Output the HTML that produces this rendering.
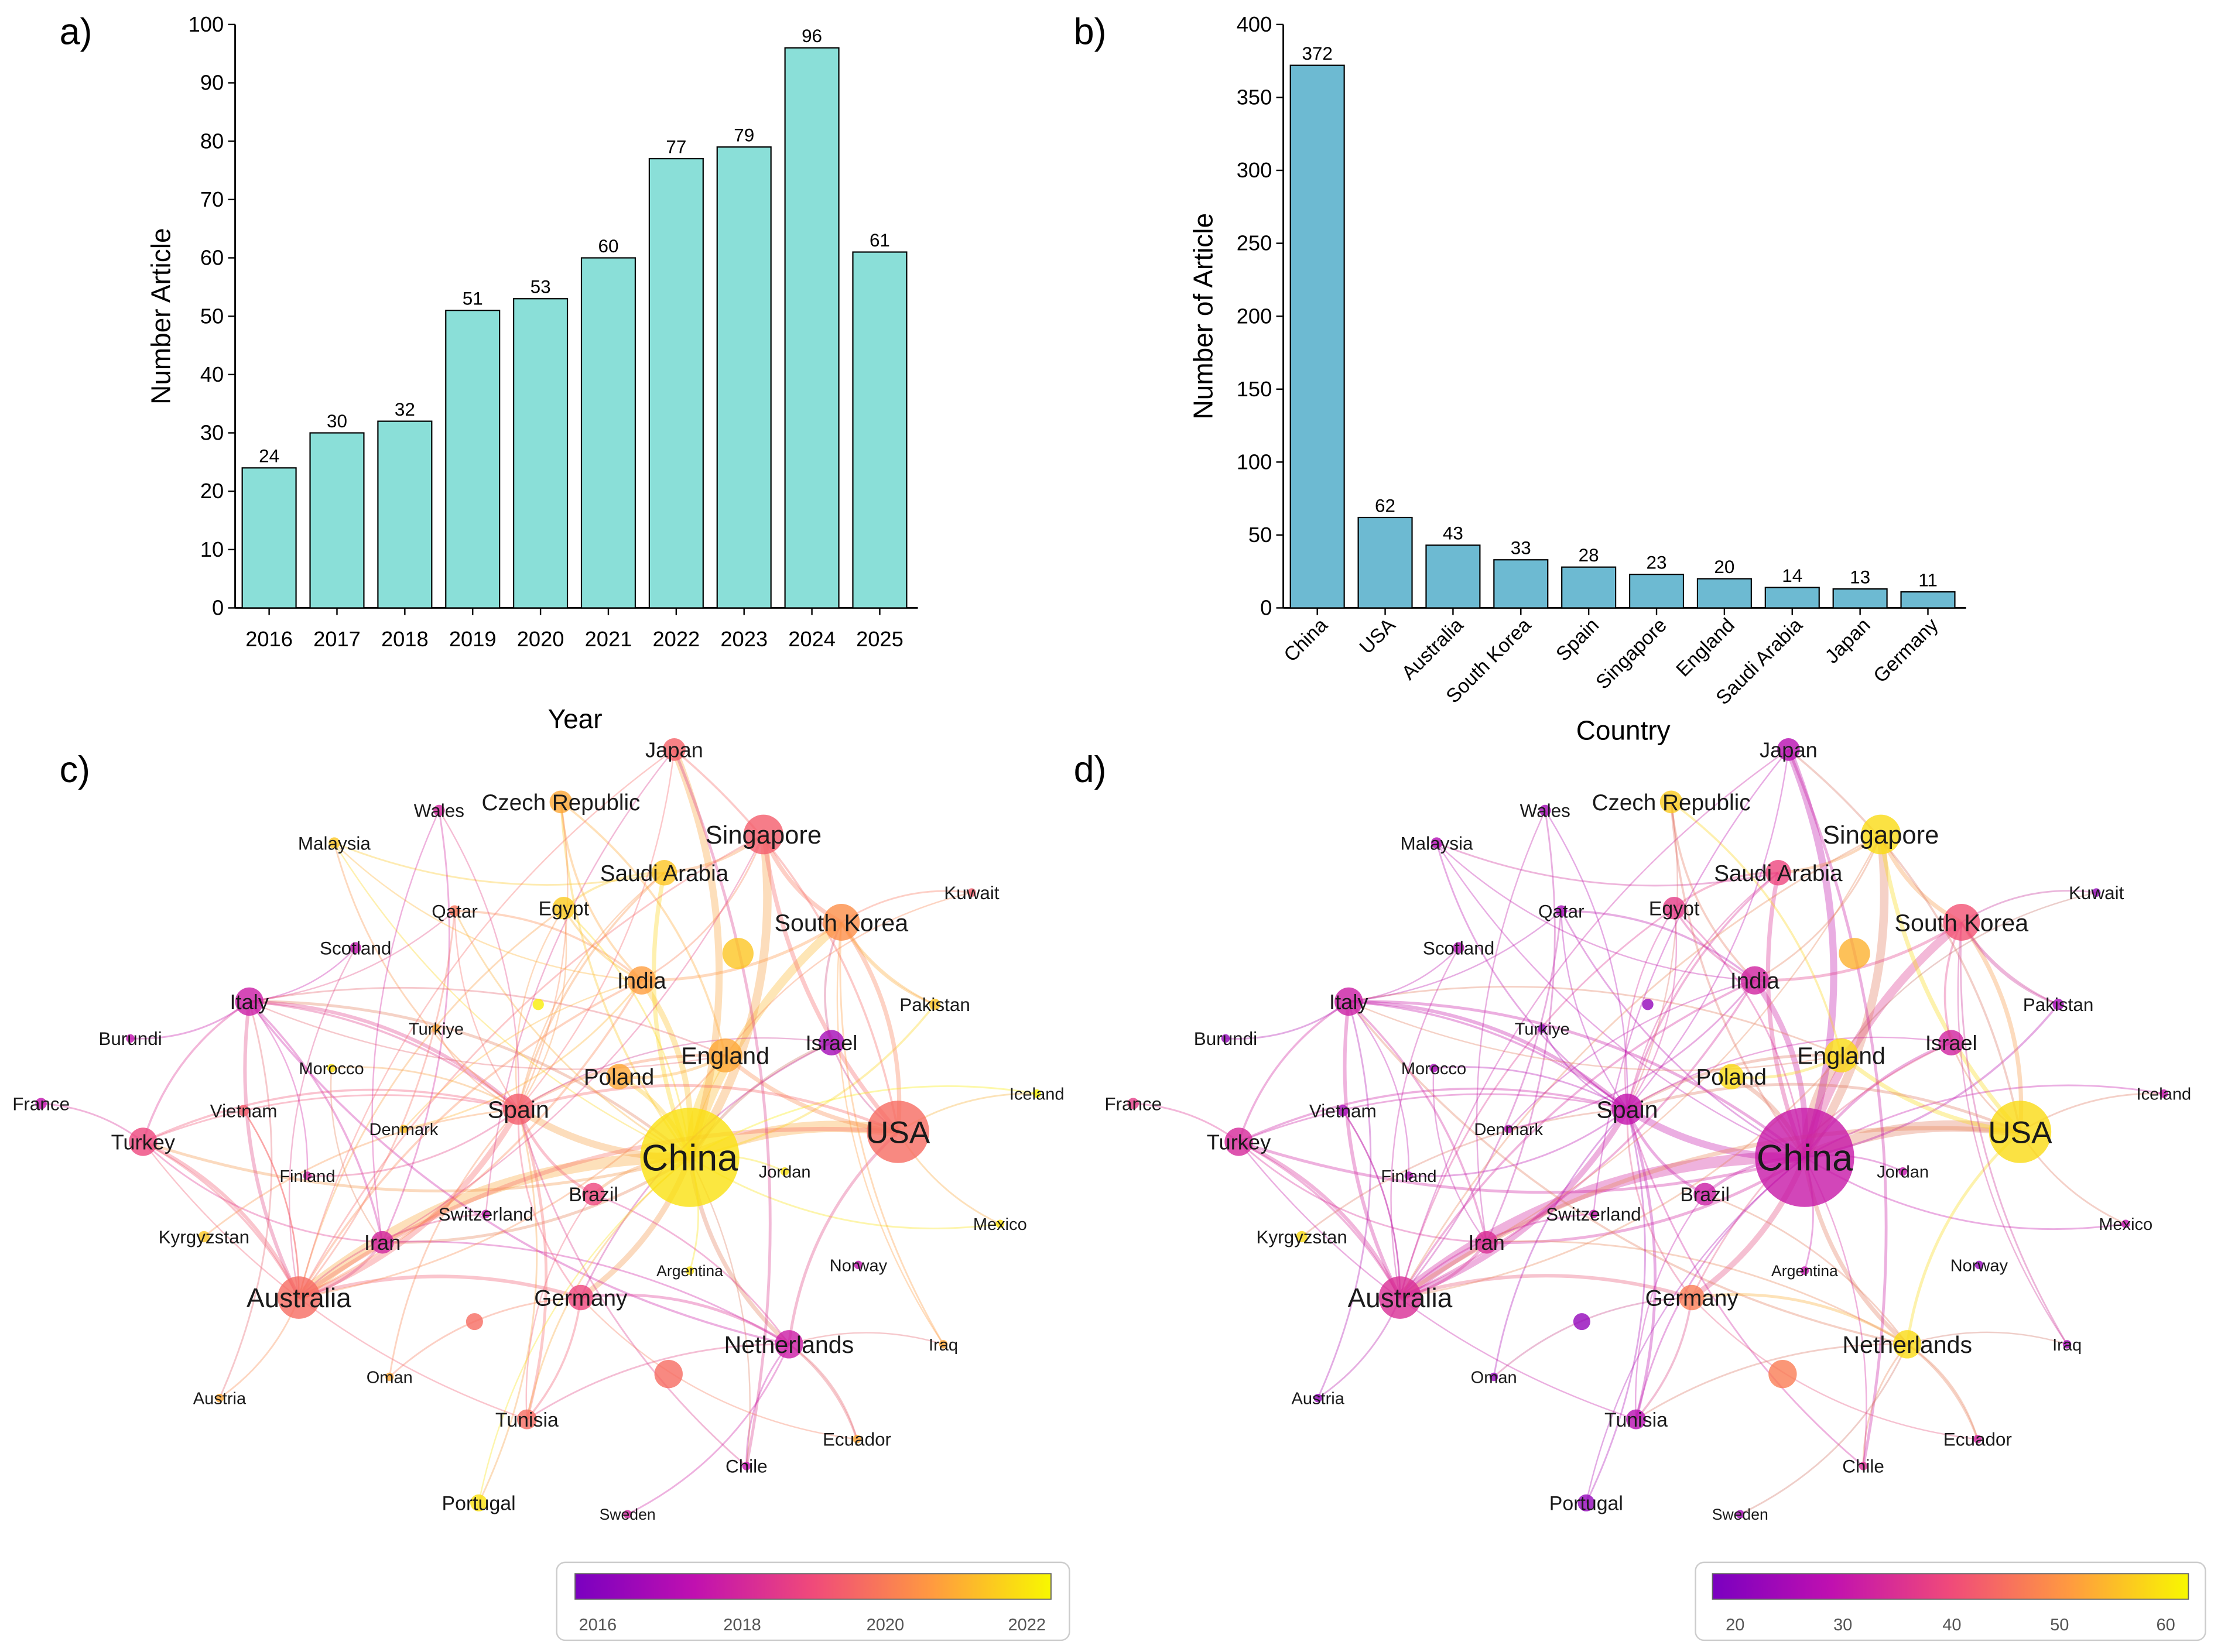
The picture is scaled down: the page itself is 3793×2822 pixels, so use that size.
<!DOCTYPE html>
<html><head><meta charset="utf-8">
<style>
html,body{margin:0;padding:0;background:#fff;}
svg{display:block;font-family:"Liberation Sans",Arial,sans-serif;}
</style></head>
<body>
<svg id="fig" width="3793" height="2822" viewBox="0 0 1568 1166" xmlns="http://www.w3.org/2000/svg">
<defs>
<linearGradient id="plasma" x1="0" x2="1" y1="0" y2="0">
<stop offset="0" stop-color="#7a00c0"/><stop offset="0.25" stop-color="#c010b0"/>
<stop offset="0.5" stop-color="#f04a7a"/><stop offset="0.75" stop-color="#ff9a40"/>
<stop offset="1" stop-color="#f8f800"/></linearGradient>
</defs>
<g id="edgesC"></g>
<g id="edgesD"></g>
<g id="nodesC"></g>
<g id="nodesD"></g>
<g id="chartA"></g>
<g id="chartB"></g>
<text x="42" y="31" font-size="26">a)</text>
<text x="758" y="31" font-size="26">b)</text>
<text x="42" y="552" font-size="26">c)</text>
<text x="758" y="552" font-size="26">d)</text>
<g>
<rect x="393" y="1103" width="362" height="55" rx="6" fill="#fff" stroke="#ccc"/>
<rect x="406" y="1111" width="336" height="18" fill="url(#plasma)" stroke="#666" stroke-width="0.8"/>
<g font-size="12" fill="#555" text-anchor="middle">
<text x="422" y="1151">2016</text><text x="524" y="1151">2018</text><text x="625" y="1151">2020</text><text x="725" y="1151">2022</text></g>
</g>
<g>
<rect x="1197" y="1103" width="360" height="55" rx="6" fill="#fff" stroke="#ccc"/>
<rect x="1209" y="1111" width="336" height="18" fill="url(#plasma)" stroke="#666" stroke-width="0.8"/>
<g font-size="12" fill="#555" text-anchor="middle">
<text x="1225" y="1151">20</text><text x="1301" y="1151">30</text><text x="1378" y="1151">40</text><text x="1454" y="1151">50</text><text x="1529" y="1151">60</text></g>
</g>
</svg>
<script>
const years=["2016","2017","2018","2019","2020","2021","2022","2023","2024","2025"];
const yearCounts=[24,30,32,51,53,60,77,79,96,61];
const countries=["China","USA","Australia","South Korea","Spain","Singapore","England","Saudi Arabia","Japan","Germany"];
const countryCounts=[372,62,43,33,28,23,20,14,13,11];
const yTicksA=[0,10,20,30,40,50,60,70,80,90,100];
const yTicksB=[0,50,100,150,200,250,300,350,400];

const NS="http://www.w3.org/2000/svg";
function mk(tag,attrs,parent){const e=document.createElementNS(NS,tag);for(const k in attrs)e.setAttribute(k,attrs[k]);parent.appendChild(e);return e;}

function barChart(g,cats,vals,ticks,max,x0,fill,rot,ylab,xlab,ylx,xly){
  const yPx=v=>429-v*(412/max);
  const xPx=i=>x0+24+i*47.9;
  mk('line',{x1:x0,y1:17,x2:x0,y2:429,stroke:'#000','stroke-width':1.2},g);
  mk('line',{x1:x0,y1:429,x2:x0+482,y2:429,stroke:'#000','stroke-width':1.2},g);
  ticks.forEach(t=>{
    mk('line',{x1:x0-5,y1:yPx(t),x2:x0,y2:yPx(t),stroke:'#000'},g);
    const tx=mk('text',{x:x0-8,y:yPx(t)+5,'font-size':15,'text-anchor':'end'},g);tx.textContent=t;
  });
  cats.forEach((c,i)=>{
    const r=mk('rect',{x:xPx(i)-19,y:yPx(vals[i]),width:38,height:429-yPx(vals[i]),fill:fill,stroke:'#000','stroke-width':0.9},g);
    
    
    const v=mk('text',{x:xPx(i),y:yPx(vals[i])-4,'font-size':13,'text-anchor':'middle'},g);v.textContent=vals[i];
    mk('line',{x1:xPx(i),y1:429,x2:xPx(i),y2:434,stroke:'#000'},g);
    let t;
    if(rot){t=mk('text',{x:xPx(i)+8,y:442,'font-size':14,'text-anchor':'end',transform:`rotate(-45 ${xPx(i)+8} 442)`},g);}
    else t=mk('text',{x:xPx(i),y:456,'font-size':15,'text-anchor':'middle'},g);
    t.textContent=c;
  });
  const yl=mk('text',{x:ylx,y:223,'font-size':19,'text-anchor':'middle',transform:`rotate(-90 ${ylx} 223)`},g);yl.textContent=ylab;
  
  const xl=mk('text',{x:x0+240,y:xly,'font-size':19,'text-anchor':'middle'},g);xl.textContent=xlab;
  
}
barChart(document.getElementById('chartA'),years,yearCounts,yTicksA,100,166,'#8ADFD8',false,'Number Article','Year',120,514);
barChart(document.getElementById('chartB'),countries,countryCounts,yTicksB,400,906,'#6DBAD2',true,'Number of Article','Country',856,522);

const nodeNames=["China","USA","Australia","Singapore","South Korea","England","Japan","Spain","India","Poland","Germany","Netherlands","Saudi Arabia","Czech Republic","Italy","Turkey","Israel","Iran","Brazil","Egypt","Tunisia","Portugal","","","","","Wales","Malaysia","Qatar","Scotland","Kuwait","Pakistan","Burundi","France","Vietnam","Morocco","Turkiye","Denmark","Finland","Switzerland","Kyrgyzstan","Jordan","Iceland","Mexico","Norway","Argentina","Iraq","Oman","Austria","Ecuador","Chile","Sweden"];
const nodeX=[487,634,211,539,594,512,476,366,453,437,410,557,469,396,176,101,587,270,419,398,372,338,521,472,335,380,310,236,321,251,686,660,92,29,172,234,308,285,217,343,144,554,732,706,606,487,666,275,155,605,527,443];
const nodeY=[817,799,916,589,651,745,529,783,692,760,916,949,616,566,707,806,736,877,843,641,1002,1061,673,970,933,709,572,595,643,669,630,709,733,779,784,754,726,797,830,857,873,827,772,864,893,897,949,972,987,1016,1035,1069];
const nodeR=[35,22,15,14,13,12,8,11,10,9,9,10,9,8,10,10,9,8,8,8,7,6,11,10,6,4,4,4,4,4,3,4,3,4,4,3,3,3,3,3,4,3,3,3,3,3,3,3,3,3,3,3];
const nodeYear=[2022,2019.8,2019.8,2019.5,2020.5,2021,2019.6,2019.5,2020.8,2021,2019,2017.8,2021.5,2021,2017.8,2019,2016.8,2018,2019,2021.6,2019.8,2022,2021.5,2019.8,2019.8,2022.2,2018,2021.5,2020,2017.5,2019.5,2021.5,2017.5,2017.5,2019.5,2022,2021,2021.5,2018,2017.5,2021.5,2022,2022.3,2022,2017.5,2022,2021,2021,2021,2021,2017.5,2018];
const nodeCit=[31,60,35,60,42,60,28,30,33,60,48,60,40,58,32,34,33,35,32,38,28,22,55,48,22,22,25,27,25,27,22,25,22,38,25,25,22,27,27,30,60,30,30,30,22,30,25,22,22,33,35,25];
const nodeFont=[26,22,19,18,17,17,15,17,16,16,16,17,16,16,15,15,15,15,14,14,14,14,0,0,0,0,13,13,13,13,13,13,13,13,13,12,12,12,12,13,13,12,12,12,12,11,12,12,12,13,13,11];
const edgeFrom=["China","China","China","China","China","China","China","China","China","China","China","China","China","China","China","China","China","China","China","China","China","USA","USA","USA","USA","USA","USA","Australia","Australia","Australia","Australia","Australia","Australia","Spain","Spain","Spain","Spain","Spain","Spain","Italy","Italy","Italy","Italy","Turkey","Turkey","Singapore","Singapore","South Korea","South Korea","South Korea","England","England","India","India","Japan","Netherlands","Netherlands","Netherlands","Germany","Germany","Iran","Saudi Arabia","Saudi Arabia","Czech Republic","Wales","Malaysia","Qatar","Egypt","Tunisia","Portugal","Brazil","Israel","Pakistan","Kuwait","France","Burundi","Mexico","Iceland","Iraq","Ecuador","Chile","Sweden","Kyrgyzstan","Austria","Oman","Finland","Vietnam","Denmark","Morocco","Switzerland",
"China","China","China","China","China","China","China","USA","USA","USA","Australia","Australia","Australia","Spain","Spain","Spain","Italy","Italy","Turkey","India","India","Japan","Japan","Egypt","Qatar","Scotland","Wales","Malaysia","Czech Republic","Saudi Arabia","Singapore","South Korea","England","Germany","Iran","Brazil","Netherlands","Israel","Tunisia","Morocco","Denmark","Finland","Vietnam","Turkiye","Switzerland","Kuwait"];
const edgeTo=["USA","Australia","England","Japan","South Korea","Singapore","Spain","India","Germany","Netherlands","Saudi Arabia","Poland","Israel","Pakistan","Turkey","Italy","Iran","Brazil","Jordan","Mexico","Argentina","Australia","Singapore","South Korea","England","Netherlands","Iceland","Spain","Italy","Turkey","Germany","Iran","Austria","Italy","Tunisia","Brazil","England","Turkey","Saudi Arabia","Turkey","Iran","Netherlands","Spain","Iran","Australia","South Korea","Saudi Arabia","Israel","India","Pakistan","Poland","Czech Republic","Egypt","Qatar","Chile","Germany","Ecuador","Chile","Tunisia","Oman","Netherlands","Egypt","Malaysia","India","Iran","Spain","Australia","Australia","Netherlands","Spain","Netherlands","Germany","South Korea","South Korea","Turkey","Italy","USA","China","South Korea","Netherlands","Spain","Netherlands","Spain","Italy","Spain","Spain","Australia","India","Spain","Australia",
"Czech Republic","Egypt","Qatar","Tunisia","Chile","Portugal","Malaysia","Japan","Israel","Spain","India","England","Singapore","Egypt","Qatar","Germany","England","Scotland","Spain","Singapore","Australia","Australia","Spain","Spain","Italy","Australia","Spain","India","Spain","Spain","Iran","Iraq","Italy","Ecuador","Wales","Tunisia","Iraq","Spain","Turkey","Iran","India","Italy","Australia","Spain","Japan","England"];
const edgeW=[8,8,7,5,6,6,5,4,4,3,3,3,2,1.5,2,2,2,2,1.2,1.2,1.2,3,3,3,3,2,1.2,4,2.5,2.5,2.5,2,1.2,2.5,2,2,2,1.5,1.5,1.5,1.5,1.5,1.5,1.2,1.5,3,2,1.5,2,1.5,2,1.5,1.5,1.5,2,2,1.5,1.2,1.5,1.2,1.2,1.5,1.2,1.5,1.2,1.2,1.2,1.2,1.2,1.2,1.2,1.2,1.2,1.2,1.2,1.2,1.2,1.2,1.2,1.2,1.2,1.2,1.2,1.2,1.2,1.2,1.2,1.2,1.2,1.2,
1.5,1.2,1.2,1.2,1,1,1,1.5,1.2,2,1.5,1.2,1.2,1,1,1.2,1.2,1,1.2,1.2,1.5,1,1,1,1,1,1,1,1,1,1,1,1,1,1,1,1,1,1,1,1,1,1,1,1,1];

const stops=[[0,[122,0,192]],[0.25,[192,16,176]],[0.5,[240,74,122]],[0.75,[255,154,64]],[1,[248,248,0]]];
function cmap(t){t=Math.max(0,Math.min(1,t));for(let i=1;i<stops.length;i++){if(t<=stops[i][0]){const a=stops[i-1],b=stops[i],f=(t-a[0])/(b[0]-a[0]);return a[1].map((v,k)=>Math.round(v+(b[1][k]-v)*f));}}return stops[4][1];}
const rgb=c=>`rgb(${c[0]},${c[1]},${c[2]})`;
const tYear=v=>(v-2015.8)/6.6;
const tCit=v=>(v-18)/45.5;

function network(eg,ng,xf,valArr,tf,tag){
  const find=n=>nodeNames.indexOf(n);
  edgeFrom.forEach((f,k)=>{
    const a=find(f),b=find(edgeTo[k]);if(a<0||b<0)return;
    const x1=xf(nodeX[a]),y1=nodeY[a],x2=xf(nodeX[b]),y2=nodeY[b];
    const mx=(x1+x2)/2,my=(y1+y2)/2,dx=x2-x1,dy=y2-y1;
    const s=(k%2?0.18:-0.15);
    const cx=mx-dy*s,cy=my+dx*s;
    const ca=cmap(tf(valArr[a])),cb=cmap(tf(valArr[b]));
    const c=ca.map((v,i)=>Math.round((v+cb[i])/2));
    const p=mk('path',{d:`M${x1},${y1} Q${cx},${cy} ${x2},${y2}`,fill:'none',stroke:rgb(c),'stroke-opacity':0.35,'stroke-width':edgeW[k]},eg);
    
    
  });
  nodeNames.forEach((n,i)=>{
    const x=xf(nodeX[i]),y=nodeY[i];
    const c=mk('circle',{cx:x,cy:y,r:nodeR[i],fill:rgb(cmap(tf(valArr[i]))),'fill-opacity':0.8},ng);
    
    
    if(n){
      const t=mk('text',{x:x,y:y+nodeFont[i]*0.36,'font-size':nodeFont[i],'text-anchor':'middle',fill:'#1a1a1a'},ng);
      t.textContent=n;
      
      
    }
  });
}
network(document.getElementById('edgesC'),document.getElementById('nodesC'),x=>x,nodeYear,tYear,'c');
network(document.getElementById('edgesD'),document.getElementById('nodesD'),x=>x*1.035+770,nodeCit,tCit,'d');
const svg=document.getElementById('fig');
svg.insertBefore(document.getElementById('nodesC'),document.getElementById('chartA'));
svg.insertBefore(document.getElementById('nodesD'),document.getElementById('chartA'));
</script>
</body></html>
